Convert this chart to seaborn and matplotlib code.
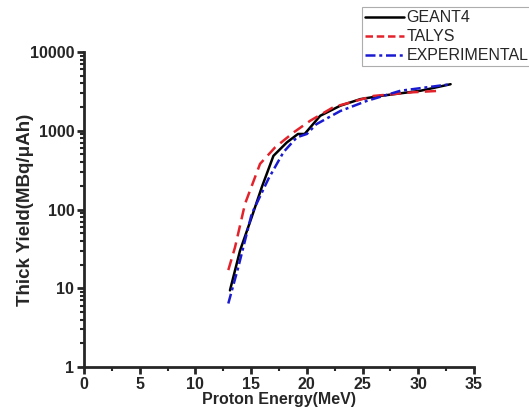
import matplotlib
matplotlib.use("Agg")
import matplotlib.pyplot as plt
from matplotlib.ticker import MultipleLocator, LogLocator, NullFormatter
import seaborn as sns
import pandas as pd

# data
geant4_e = [13.1, 14.0, 15.05, 15.95, 17.0, 18.2, 19.2, 19.8, 21.2, 23.0, 24.8, 26.6, 30.2, 32.9]
geant4_y = [9.4, 30, 80, 191, 480, 710, 910, 910, 1550, 2080, 2520, 2770, 3220, 3900]

talys_e = [12.95, 13.55, 14.45, 15.8, 17.15, 18.8, 20.3, 22.4, 26.0, 29.5, 32.0]
talys_y = [17, 33, 118, 380, 615, 950, 1340, 2000, 2770, 3080, 3220]

exp_e = [12.95, 13.85, 15.05, 16.55, 17.9, 19.1, 20.0, 20.85, 23.0, 25.4, 28.4, 32.9]
exp_y = [6.4, 18.6, 88, 245, 535, 825, 910, 1210, 1780, 2400, 3220, 3900]

df_g = pd.DataFrame({"energy": geant4_e, "yield": geant4_y})
df_t = pd.DataFrame({"energy": talys_e, "yield": talys_y})
df_x = pd.DataFrame({"energy": exp_e, "yield": exp_y})

sns.set_style("ticks")
plt.rcParams['font.family'] = ['Liberation Sans', 'DejaVu Sans']

fig = plt.figure(figsize=(5.29, 4.16), dpi=100)
ax = fig.add_axes([84/529, 1-367/416, 390/529, 315/416])

sns.lineplot(data=df_g, x="energy", y="yield", ax=ax, color="black", lw=1.8, label="GEANT4")
sns.lineplot(data=df_t, x="energy", y="yield", ax=ax, color="#e3232b", lw=1.8, label="TALYS")
ax.lines[-1].set_dashes([4.5, 2.5])
sns.lineplot(data=df_x, x="energy", y="yield", ax=ax, color="#1a1ad0", lw=1.8, label="EXPERIMENTAL")
ax.lines[-1].set_dashes([4, 1.5, 1.2, 1.5])

ax.set_yscale("log")
ax.set_xlim(0, 35)
ax.set_ylim(1, 10000)
ax.xaxis.set_major_locator(MultipleLocator(5))
ax.xaxis.set_minor_locator(MultipleLocator(2.5))
ax.yaxis.set_minor_locator(LogLocator(base=10, subs=range(2, 10)))
ax.yaxis.set_minor_formatter(NullFormatter())
ax.set_yticks([1, 10, 100, 1000, 10000])
ax.set_yticklabels(["1", "10", "100", "1000", "10000"])

for s in ["top", "right"]:
    ax.spines[s].set_visible(False)
for s in ["left", "bottom"]:
    ax.spines[s].set_linewidth(2)
ax.tick_params(which="major", direction="out", length=5, width=2, labelsize=11.5, pad=2)
ax.tick_params(which="minor", direction="out", length=3, width=1.5)
for lab in ax.get_xticklabels() + ax.get_yticklabels():
    lab.set_fontweight("bold")

ax.set_xlabel("Proton Energy(MeV)", fontsize=11.5, fontweight="bold", labelpad=0)
ax.set_ylabel("Thick Yield(MBq/\u03bcAh)", fontsize=13.5, fontweight="bold", labelpad=-3)

leg = ax.legend(loc="upper left", bbox_to_anchor=(362/529, 1-7/416),
                bbox_transform=fig.transFigure, fontsize=11.5, frameon=True,
                fancybox=False, handlelength=2.4, handletextpad=0.2,
                borderpad=0.2, labelspacing=0.25, borderaxespad=0)
leg.get_frame().set_edgecolor("#999999")
leg.get_frame().set_linewidth(0.8)
leg.get_lines()[1].set_dashes([3, 1.5])

fig.savefig("out.png", dpi=100)
